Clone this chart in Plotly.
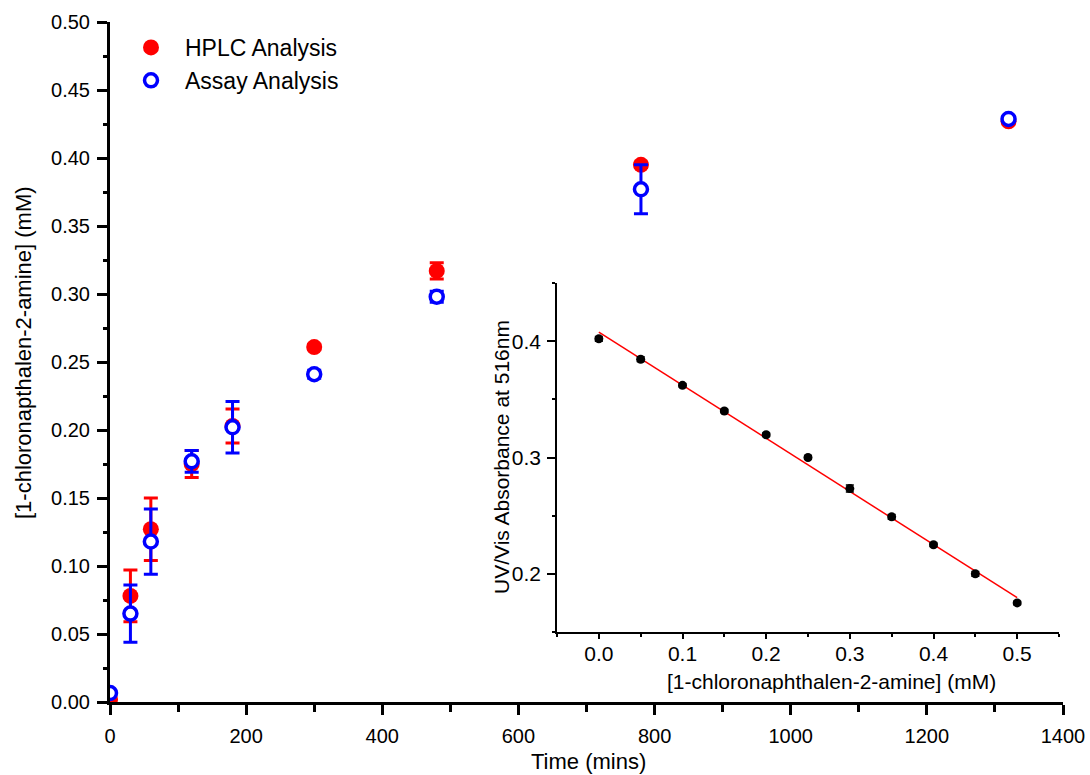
import numpy as np
import plotly.graph_objects as go

# ---- main time-course data ----
time_min = [0, 30, 60, 120, 180, 300, 480, 780, 1320]

hplc_conc = [0.002, 0.078, 0.127, 0.175, 0.203, 0.261, 0.317, 0.395, 0.427]
hplc_err = [0.002, 0.019, 0.023, 0.010, 0.0125, 0.002, 0.006, 0.002, 0.002]

assay_conc = [0.0066, 0.065, 0.118, 0.177, 0.202, 0.241, 0.298, 0.377, 0.4287]
assay_err = [0.002, 0.021, 0.024, 0.008, 0.019, 0.003, 0.004, 0.018, 0.002]

# ---- calibration (inset) data ----
calib_conc = [0.0, 0.05, 0.10, 0.15, 0.20, 0.25, 0.30, 0.35, 0.40, 0.45, 0.50]
calib_abs = [0.402, 0.3845, 0.362, 0.340, 0.3196, 0.300, 0.2733, 0.249, 0.225, 0.200, 0.175]
calib_err = [0.002, 0.002, 0.0015, 0.0015, 0.0015, 0.0015, 0.003, 0.002, 0.0015, 0.002, 0.0015]

# linear calibration fit
slope, intercept = np.polyfit(calib_conc, calib_abs, 1)
fit_x = [calib_conc[0], calib_conc[-1]]
fit_y = [intercept + slope * x for x in fit_x]

W, H = 1090, 775
FONT = "Liberation Sans, Arial, sans-serif"
RED = "#FF0000"
BLUE = "#0000FF"


def px_x(p):
    return p / W


def px_y(p):
    return (H - p) / H


fig = go.Figure()

fig.add_trace(go.Scatter(
    x=time_min, y=hplc_conc, mode="markers", name="HPLC Analysis",
    legendgroup="hplc",
    marker=dict(symbol="circle", size=16, color=RED, line=dict(width=0)),
    error_y=dict(type="data", array=hplc_err, color=RED, thickness=3, width=7),
    xaxis="x", yaxis="y",
))
fig.add_trace(go.Scatter(
    x=time_min, y=assay_conc, mode="markers", name="Assay Analysis",
    legendgroup="assay",
    marker=dict(symbol="circle", size=13, color="white", line=dict(width=3.5, color=BLUE)),
    error_y=dict(type="data", array=assay_err, color=BLUE, thickness=3, width=7),
    xaxis="x", yaxis="y",
))

# inset: calibration points and fit
fig.add_trace(go.Scatter(
    x=fit_x, y=fit_y, mode="lines", showlegend=False,
    line=dict(color=RED, width=1.5),
    xaxis="x2", yaxis="y2",
))
fig.add_trace(go.Scatter(
    x=calib_conc, y=calib_abs, mode="markers", showlegend=False,
    marker=dict(symbol="circle", size=9, color="black"),
    error_y=dict(type="data", array=calib_err, color="black", thickness=1.5, width=4),
    xaxis="x2", yaxis="y2",
))

main_axis = dict(
    showline=True, linecolor="black", linewidth=3, mirror=False,
    showgrid=False, zeroline=False, ticks="outside", tickcolor="black",
    tickwidth=3, ticklen=10, tickfont=dict(family=FONT, size=20, color="black"),
    automargin=False,
)
inset_axis = dict(
    showline=True, linecolor="black", linewidth=1.5, mirror=False,
    showgrid=False, zeroline=False, ticks="outside", tickcolor="black",
    tickwidth=1.5, tickfont=dict(family=FONT, size=21, color="black"),
    automargin=False,
)

fig.update_layout(
    width=W, height=H,
    margin=dict(l=0, r=0, t=0, b=0),
    paper_bgcolor="white", plot_bgcolor="rgba(0,0,0,0)",
    font=dict(family=FONT, color="black"),
    xaxis=dict(
        main_axis, domain=[px_x(110), px_x(1063)], range=[0, 1400],
        tickvals=[0, 200, 400, 600, 800, 1000, 1200, 1400],
        ticklabelstandoff=4, anchor="y",
        minor=dict(tickvals=[100, 300, 500, 700, 900, 1100, 1300], ticks="outside",
                   ticklen=7, tickwidth=3, tickcolor="black"),
    ),
    yaxis=dict(
        main_axis, domain=[px_y(702), px_y(22)], range=[0, 0.5],
        tickvals=[0, 0.05, 0.10, 0.15, 0.20, 0.25, 0.30, 0.35, 0.40, 0.45, 0.50],
        tickformat=".2f", ticklabelstandoff=3, anchor="x",
        minor=dict(dtick=0.025, ticks="outside", ticklen=4, tickwidth=2.5, tickcolor="black"),
    ),
    xaxis2=dict(
        inset_axis, domain=[px_x(557), px_x(1059)], range=[-0.05, 0.55],
        tickvals=[0.0, 0.1, 0.2, 0.3, 0.4, 0.5], tickformat=".1f",
        ticklen=5, ticklabelstandoff=-3, anchor="y2",
        minor=dict(tickvals=[-0.05, 0.05, 0.15, 0.25, 0.35, 0.45, 0.55], ticks="outside",
                   ticklen=3, tickwidth=1.5, tickcolor="black"),
    ),
    yaxis2=dict(
        inset_axis, domain=[px_y(632), px_y(283)], range=[0.15, 0.45],
        tickvals=[0.2, 0.3, 0.4], tickformat=".1f",
        ticklen=8, ticklabelstandoff=2, anchor="x2",
        minor=dict(tickvals=[0.15, 0.25, 0.35, 0.45], ticks="outside",
                   ticklen=3, tickwidth=1.5, tickcolor="black"),
    ),
    showlegend=True,
    legend=dict(
        x=px_x(117), y=px_y(26), xanchor="left", yanchor="top",
        bgcolor="rgba(0,0,0,0)", borderwidth=0,
        font=dict(family=FONT, size=23, color="black"),
        itemwidth=58, tracegroupgap=0,
    ),
    annotations=[
        dict(text="Time (mins)", x=px_x(588), y=px_y(761), xref="paper", yref="paper",
             xanchor="center", yanchor="middle", showarrow=False,
             font=dict(family=FONT, size=22, color="black")),
        dict(text="[1-chloronapthalen-2-amine] (mM)", x=px_x(23), y=px_y(353),
             xref="paper", yref="paper", xanchor="center", yanchor="middle",
             textangle=-90, showarrow=False,
             font=dict(family=FONT, size=22, color="black")),
        dict(text="[1-chloronaphthalen-2-amine] (mM)", x=px_x(831), y=px_y(681),
             xref="paper", yref="paper", xanchor="center", yanchor="middle",
             showarrow=False, font=dict(family=FONT, size=21, color="black")),
        dict(text="UV/Vis Absorbance at 516nm", x=px_x(502), y=px_y(457),
             xref="paper", yref="paper", xanchor="center", yanchor="middle",
             textangle=-90, showarrow=False,
             font=dict(family=FONT, size=21, color="black")),
    ],
)

fig.write_html("out.html")
